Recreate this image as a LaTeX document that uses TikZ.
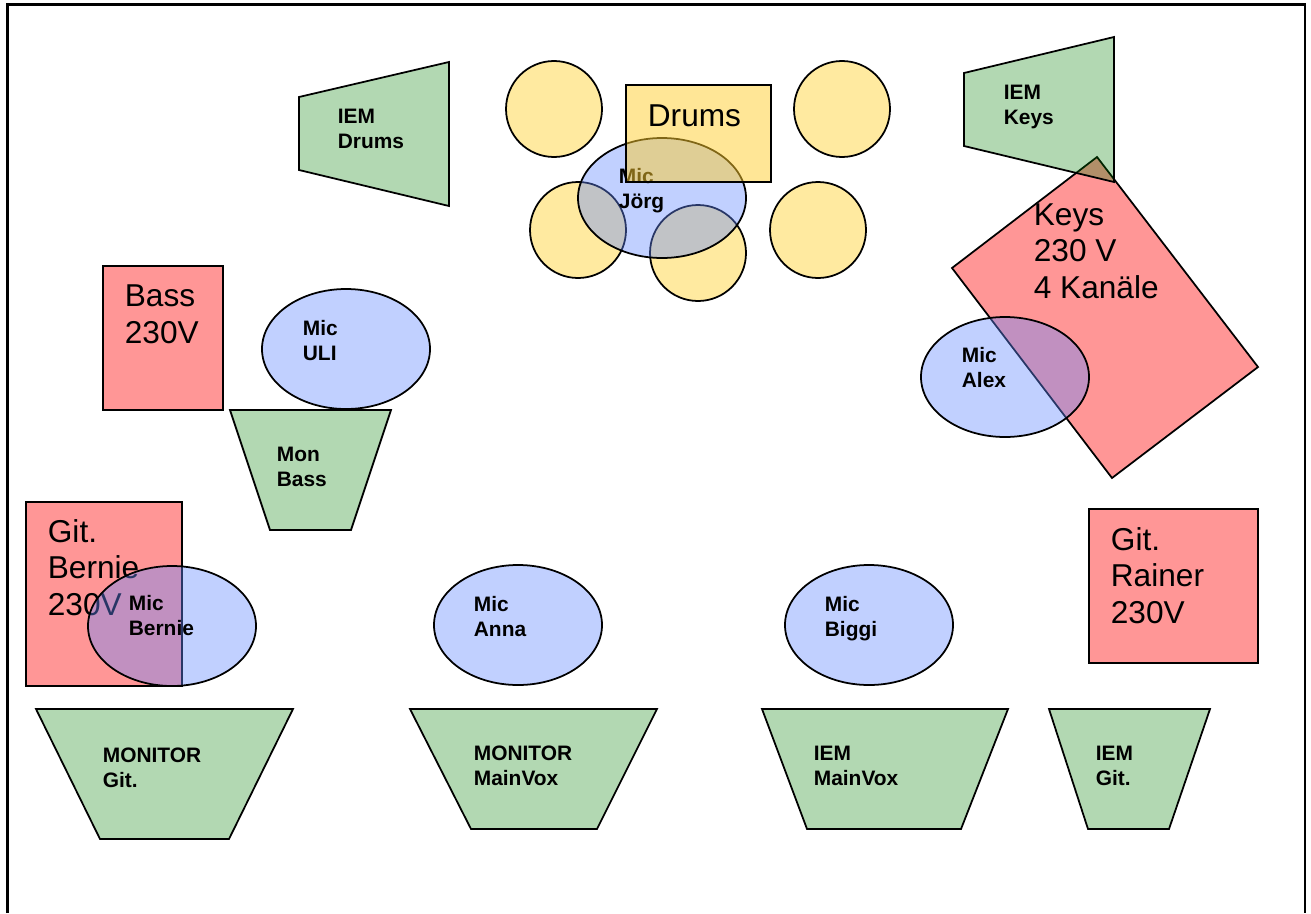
\documentclass[tikz,border=0pt]{standalone}
\usepackage{fontspec}
\setmainfont{Liberation Sans}
\definecolor{drumyellow}{RGB}{255,234,160}
\definecolor{drumbox}{RGB}{255,205,45}
\definecolor{micblue}{RGB}{100,137,255}
\definecolor{ampred}{RGB}{255,0,0}
\definecolor{mongreen}{RGB}{0,125,0}
\begin{document}
\begin{tikzpicture}[x=0.02cm, y=-0.02cm, line width=1pt,
    drum/.style={fill=drumyellow},
    drumbox/.style={fill opacity=0.5, fill=drumbox},
    mic/.style={fill opacity=0.4, fill=micblue},
    amp/.style={fill opacity=0.41, fill=ampred},
    mon/.style={fill opacity=0.3, fill=mongreen},
    small/.style={font=\bfseries\fontsize{11.9}{14}\selectfont, align=left, inner sep=0pt, anchor=base west},
    big/.style={font=\fontsize{18}{20.6}\selectfont, align=left, inner sep=0pt, anchor=base west}]
        \useasboundingbox (0,0) rectangle (1311,913);
        %frame
        \draw[line width=1.3pt] (7.5,913) -- (7.5,4.5) -- (1305,4.5) -- (1305,913);
        %drums
        \filldraw[drum] (554,109) circle (48);
        \filldraw[drum] (842,109) circle (48);
        \filldraw[drum] (578,230) circle (48);
        \filldraw[drum] (698,253) circle (48);
        \filldraw[drum] (818,230) circle (48);
        \filldraw[mic] (662,198) ellipse (84 and 60);
        \node[small] (micjoerg) at (618,208) {Mic\\Jörg};
        \filldraw[drumbox] (626,85) rectangle (771,182);
        \node[big] (drums) at (647,126) {Drums};
        \filldraw[mon] (299,97) -- (449,62) -- (449,206) -- (299,170) -- cycle;
        \node[small] (iemdrums) at (337,148) {IEM\\Drums};
        %keys
        \filldraw[amp] (1097,157) -- (1258,367) -- (1112,478) -- (952,268) -- cycle;
        \node[big] (keys) at (1033,298) {Keys\\230 V\\4 Kanäle};
        \filldraw[mon] (964,73) -- (1114,37) -- (1114,182) -- (964,146) -- cycle;
        \node[small] (iemkeys) at (1003,124) {IEM\\Keys};
        \filldraw[mic] (1005,377) ellipse (84 and 60);
        \node[small] (micalex) at (961,387) {Mic\\Alex};
        %bass
        \filldraw[amp] (103,266) rectangle (223,410);
        \node[big] (bass) at (124,343) {Bass\\230V};
        \filldraw[mic] (346,349) ellipse (84 and 60);
        \node[small] (miculi) at (302,360) {Mic\\ULI};
        \filldraw[mon] (230,410) -- (391,410) -- (351,530) -- (270,530) -- cycle;
        \node[small] (monbass) at (276,486) {Mon\\Bass};
        %guitars
        \filldraw[amp] (26,502) rectangle (182,686);
        \node[big] (gitbernie) at (47,615) {Git.\\Bernie\\230V};
        \filldraw[mic] (172,626) ellipse (84 and 60);
        \node[small] (micbernie) at (128,635) {Mic\\Bernie};
        \filldraw[amp] (1089,509) rectangle (1258,663);
        \node[big] (gitrainer) at (1110,623) {Git.\\Rainer\\230V};
        %vocals
        \filldraw[mic] (518,625) ellipse (84 and 60);
        \node[small] (micanna) at (473,636) {Mic\\Anna};
        \filldraw[mic] (869,625) ellipse (84 and 60);
        \node[small] (micbiggi) at (824,636) {Mic\\Biggi};
        %monitors
        \filldraw[mon] (36,709) -- (293,709) -- (229,839) -- (100,839) -- cycle;
        \node[small] (mongit) at (102,787) {MONITOR\\Git.};
        \filldraw[mon] (410,709) -- (657,709) -- (597,829) -- (471,829) -- cycle;
        \node[small] (monvox) at (473,785) {MONITOR\\MainVox};
        \filldraw[mon] (762,709) -- (1008,709) -- (961,829) -- (807,829) -- cycle;
        \node[small] (iemvox) at (813,785) {IEM\\MainVox};
        \filldraw[mon] (1049,709) -- (1210,709) -- (1169,829) -- (1088,829) -- cycle;
        \node[small] (iemgit) at (1095,785) {IEM\\Git.};
    \end{tikzpicture}
\end{document}
